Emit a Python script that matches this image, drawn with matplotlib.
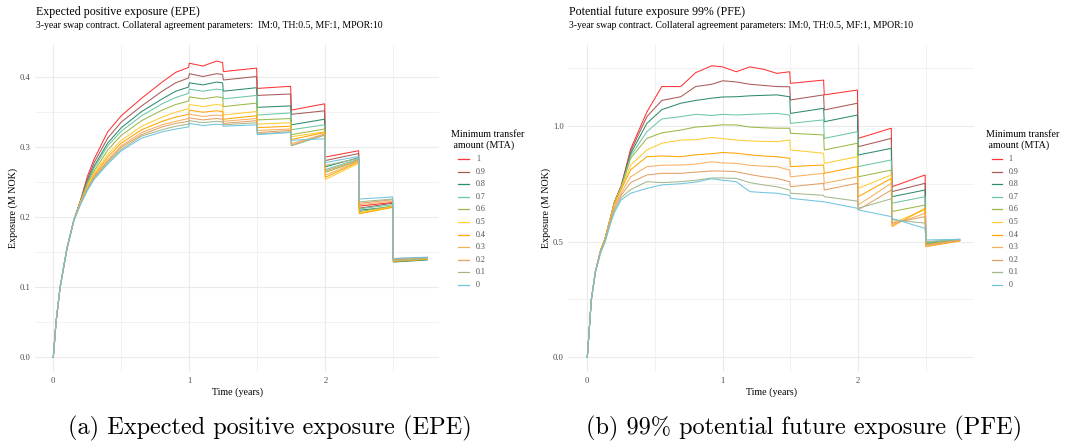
import matplotlib
matplotlib.use("Agg")
import matplotlib.pyplot as plt
from matplotlib.lines import Line2D
from matplotlib.ticker import MultipleLocator

# ---------------- data ----------------
mta_labels = ["1", "0.9", "0.8", "0.7", "0.6", "0.5", "0.4", "0.3", "0.2", "0.1", "0"]
mta_colors = ["#FF3333", "#A85A57", "#2E8B6E", "#6CC8A2", "#9BB84A", "#FFCC33",
              "#FFA500", "#F8B060", "#E3A066", "#A3B88C", "#70C4DE"]

epe_time = [0, 0.02, 0.05, 0.1, 0.15, 0.2, 0.25, 0.3, 0.4, 0.5, 0.65, 0.8, 0.9, 0.995, 1.0,
            1.1, 1.2, 1.245, 1.25, 1.495, 1.5, 1.745, 1.75, 1.995, 2.0, 2.245, 2.25, 2.495, 2.5, 2.75]

epe_1 = [0, 0.05, 0.10, 0.155, 0.195, 0.224, 0.258, 0.283, 0.322, 0.345, 0.370, 0.393, 0.407, 0.414, 0.420,
         0.416, 0.423, 0.421, 0.408, 0.413, 0.384, 0.387, 0.353, 0.362, 0.286, 0.295, 0.216, 0.221, 0.140, 0.142]
epe_09 = [0, 0.05, 0.10, 0.155, 0.195, 0.224, 0.254, 0.278, 0.313, 0.336, 0.359, 0.380, 0.392, 0.399, 0.405,
          0.401, 0.405, 0.404, 0.396, 0.401, 0.374, 0.376, 0.347, 0.352, 0.281, 0.291, 0.213, 0.220, 0.141, 0.142]
epe_08 = [0, 0.05, 0.10, 0.155, 0.195, 0.223, 0.251, 0.273, 0.306, 0.328, 0.351, 0.369, 0.380, 0.386, 0.392,
          0.389, 0.393, 0.392, 0.380, 0.385, 0.357, 0.359, 0.332, 0.340, 0.272, 0.285, 0.210, 0.215, 0.136, 0.139]
epe_07 = [0, 0.05, 0.10, 0.155, 0.195, 0.223, 0.249, 0.270, 0.302, 0.323, 0.345, 0.362, 0.371, 0.377, 0.383,
          0.380, 0.383, 0.382, 0.369, 0.374, 0.346, 0.349, 0.325, 0.332, 0.268, 0.283, 0.212, 0.218, 0.139, 0.142]
epe_06 = [0, 0.05, 0.10, 0.155, 0.195, 0.222, 0.247, 0.266, 0.296, 0.317, 0.338, 0.353, 0.361, 0.366, 0.372,
          0.369, 0.372, 0.371, 0.358, 0.363, 0.339, 0.341, 0.318, 0.326, 0.264, 0.281, 0.208, 0.216, 0.137, 0.140]
epe_05 = [0, 0.05, 0.10, 0.155, 0.195, 0.222, 0.244, 0.263, 0.290, 0.310, 0.330, 0.343, 0.350, 0.355, 0.361,
          0.358, 0.361, 0.360, 0.346, 0.351, 0.333, 0.335, 0.315, 0.322, 0.254, 0.277, 0.206, 0.215, 0.140, 0.142]
epe_04 = [0, 0.05, 0.10, 0.155, 0.195, 0.222, 0.242, 0.260, 0.286, 0.306, 0.325, 0.337, 0.343, 0.347, 0.353,
          0.350, 0.352, 0.351, 0.340, 0.345, 0.328, 0.330, 0.311, 0.321, 0.257, 0.279, 0.205, 0.214, 0.137, 0.140]
epe_03 = [0, 0.05, 0.10, 0.155, 0.195, 0.221, 0.241, 0.258, 0.282, 0.302, 0.321, 0.332, 0.337, 0.341, 0.347,
          0.344, 0.346, 0.345, 0.337, 0.341, 0.324, 0.326, 0.305, 0.319, 0.260, 0.280, 0.218, 0.223, 0.138, 0.141]
epe_02 = [0, 0.05, 0.10, 0.155, 0.195, 0.220, 0.240, 0.257, 0.280, 0.300, 0.318, 0.329, 0.334, 0.337, 0.342,
          0.339, 0.341, 0.340, 0.334, 0.338, 0.321, 0.324, 0.303, 0.318, 0.266, 0.282, 0.220, 0.225, 0.139, 0.142]
epe_01 = [0, 0.05, 0.10, 0.155, 0.195, 0.219, 0.239, 0.255, 0.278, 0.297, 0.316, 0.325, 0.330, 0.333, 0.338,
          0.335, 0.337, 0.336, 0.332, 0.335, 0.319, 0.322, 0.302, 0.317, 0.274, 0.284, 0.222, 0.226, 0.138, 0.141]
epe_00 = [0, 0.05, 0.10, 0.155, 0.195, 0.218, 0.238, 0.254, 0.276, 0.295, 0.313, 0.322, 0.326, 0.329, 0.334,
          0.331, 0.333, 0.332, 0.330, 0.332, 0.318, 0.321, 0.310, 0.312, 0.278, 0.287, 0.226, 0.229, 0.141, 0.143]

pfe_time = [0, 0.03, 0.06, 0.1, 0.13, 0.17, 0.2, 0.25, 0.32, 0.44, 0.55, 0.69, 0.8, 0.92, 1.0,
            1.1, 1.2, 1.3, 1.4, 1.495, 1.5, 1.745, 1.75, 1.995, 2.0, 2.245, 2.25, 2.495, 2.5, 2.75]

pfe_1 = [0, 0.25, 0.37, 0.465, 0.51, 0.60, 0.67, 0.74, 0.90, 1.06, 1.17, 1.17, 1.23, 1.26, 1.255,
         1.234, 1.255, 1.245, 1.227, 1.234, 1.184, 1.198, 1.134, 1.155, 0.946, 0.990, 0.737, 0.788, 0.490, 0.505]
pfe_09 = [0, 0.25, 0.37, 0.465, 0.51, 0.60, 0.67, 0.74, 0.89, 1.04, 1.11, 1.126, 1.17, 1.18, 1.195,
          1.19, 1.18, 1.175, 1.17, 1.169, 1.112, 1.134, 1.069, 1.098, 0.910, 0.946, 0.716, 0.752, 0.495, 0.508]
pfe_08 = [0, 0.25, 0.37, 0.465, 0.51, 0.60, 0.67, 0.735, 0.88, 1.011, 1.07, 1.098, 1.11, 1.12, 1.125,
          1.126, 1.13, 1.132, 1.134, 1.126, 1.054, 1.076, 1.018, 1.047, 0.874, 0.903, 0.694, 0.723, 0.490, 0.505]
pfe_07 = [0, 0.25, 0.37, 0.465, 0.51, 0.60, 0.67, 0.735, 0.87, 0.975, 1.03, 1.04, 1.05, 1.045, 1.05,
          1.047, 1.05, 1.052, 1.054, 1.047, 1.011, 1.026, 0.946, 0.975, 0.824, 0.853, 0.666, 0.694, 0.495, 0.508]
pfe_06 = [0, 0.25, 0.37, 0.465, 0.51, 0.60, 0.665, 0.73, 0.86, 0.946, 0.97, 0.982, 0.995, 1.0, 1.005,
          1.004, 0.995, 0.992, 0.99, 0.99, 0.968, 0.961, 0.896, 0.925, 0.78, 0.809, 0.63, 0.658, 0.49, 0.505]
pfe_05 = [0, 0.25, 0.37, 0.465, 0.51, 0.60, 0.665, 0.73, 0.83, 0.896, 0.925, 0.939, 0.94, 0.95, 0.945,
          0.939, 0.935, 0.933, 0.932, 0.939, 0.896, 0.882, 0.838, 0.867, 0.73, 0.788, 0.58, 0.637, 0.485, 0.505]
pfe_04 = [0, 0.25, 0.37, 0.465, 0.51, 0.60, 0.665, 0.725, 0.81, 0.867, 0.87, 0.867, 0.875, 0.88, 0.885,
          0.882, 0.875, 0.87, 0.867, 0.86, 0.824, 0.831, 0.795, 0.824, 0.694, 0.773, 0.565, 0.644, 0.478, 0.502]
pfe_03 = [0, 0.25, 0.37, 0.46, 0.505, 0.595, 0.655, 0.71, 0.78, 0.824, 0.83, 0.831, 0.835, 0.845, 0.84,
          0.838, 0.83, 0.826, 0.824, 0.809, 0.78, 0.795, 0.752, 0.78, 0.658, 0.752, 0.573, 0.622, 0.48, 0.505]
pfe_02 = [0, 0.25, 0.37, 0.46, 0.50, 0.59, 0.645, 0.70, 0.755, 0.788, 0.795, 0.795, 0.80, 0.805, 0.805,
          0.802, 0.79, 0.78, 0.773, 0.759, 0.737, 0.752, 0.723, 0.752, 0.637, 0.723, 0.58, 0.608, 0.485, 0.505]
pfe_01 = [0, 0.25, 0.37, 0.455, 0.50, 0.58, 0.635, 0.69, 0.725, 0.759, 0.755, 0.759, 0.765, 0.775, 0.775,
          0.773, 0.755, 0.745, 0.737, 0.723, 0.709, 0.70, 0.694, 0.675, 0.644, 0.685, 0.594, 0.58, 0.50, 0.51]
pfe_00 = [0, 0.25, 0.37, 0.455, 0.495, 0.575, 0.625, 0.68, 0.709, 0.73, 0.745, 0.75, 0.757, 0.772, 0.765,
          0.759, 0.716, 0.712, 0.709, 0.70, 0.687, 0.672, 0.672, 0.644, 0.637, 0.608, 0.60, 0.557, 0.507, 0.51]

epe_series = [epe_1, epe_09, epe_08, epe_07, epe_06, epe_05, epe_04, epe_03, epe_02, epe_01, epe_00]
pfe_series = [pfe_1, pfe_09, pfe_08, pfe_07, pfe_06, pfe_05, pfe_04, pfe_03, pfe_02, pfe_01, pfe_00]

epe_yticks = [0.0, 0.1, 0.2, 0.3, 0.4]
pfe_yticks = [0.0, 0.5, 1.0]
x_ticks = [0, 1, 2]

title_epe = "Expected positive exposure (EPE)"
title_pfe = "Potential future exposure 99% (PFE)"
subtitle_epe = "3-year swap contract. Collateral agreement parameters:  IM:0, TH:0.5, MF:1, MPOR:10"
subtitle_pfe = "3-year swap contract. Collateral agreement parameters: IM:0, TH:0.5, MF:1, MPOR:10"
caption_a = "(a) Expected positive exposure (EPE)"
caption_b = "(b) 99% potential future exposure (PFE)"

# ---------------- figure ----------------
W, H = 1068, 442
fig = plt.figure(figsize=(W / 100, H / 100), dpi=100)
fig.patch.set_facecolor("white")

SERIF = ["Liberation Serif", "DejaVu Serif"]
CM = ["cmr10", "DejaVu Serif"]
GRID = "#EBEBEB"
TXT = "#4D4D4D"


def px_axes(x0, x1, y0, y1):
    return fig.add_axes([x0 / W, 1 - y1 / H, (x1 - x0) / W, (y1 - y0) / H])


def style(ax, xlim, ylim, yticks, ymin_step):
    ax.set_xlim(*xlim)
    ax.set_ylim(*ylim)
    for s in ax.spines.values():
        s.set_visible(False)
    ax.set_xticks(x_ticks)
    ax.set_xticklabels([str(v) for v in x_ticks], family=SERIF, fontsize=6.2, color=TXT)
    ax.set_yticks(yticks)
    ax.set_yticklabels([f"{v:.1f}" for v in yticks], family=SERIF, fontsize=6.2, color=TXT)
    ax.xaxis.set_minor_locator(MultipleLocator(0.5))
    ax.yaxis.set_minor_locator(MultipleLocator(ymin_step))
    ax.tick_params(which="both", length=0)
    ax.tick_params(axis="x", pad=4)
    ax.tick_params(axis="y", pad=3)
    ax.grid(which="major", color=GRID, lw=0.8)
    ax.grid(which="minor", color=GRID, lw=0.45)
    ax.set_axisbelow(True)
    ax.set_xlabel("Time (years)", family=SERIF, fontsize=7.2, labelpad=1.5)
    ax.set_ylabel("Exposure (M NOK)", family=SERIF, fontsize=7.2, labelpad=1.5)


# Left panel (EPE)
axL = px_axes(35, 439.3, 45, 371.7)
for vals, col in zip(epe_series, mta_colors):
    axL.plot(epe_time, vals, color=col, lw=0.75, solid_joinstyle="miter")
style(axL, (-0.1346, 2.838), (-0.0206, 0.446), epe_yticks, 0.05)

# Right panel (PFE)
axR = px_axes(568, 974.3, 45, 371.7)
for vals, col in zip(pfe_series, mta_colors):
    axR.plot(pfe_time, vals, color=col, lw=0.75, solid_joinstyle="miter")
style(axR, (-0.1425, 2.858), (-0.0622, 1.3496), pfe_yticks, 0.25)

# Titles
fig.text(36 / W, 1 - 12 / H, title_epe, family=SERIF, fontsize=8.6, va="center", ha="left")
fig.text(36 / W, 1 - 26 / H, subtitle_epe, family=SERIF, fontsize=7.0, va="center", ha="left")
fig.text(569 / W, 1 - 12 / H, title_pfe, family=SERIF, fontsize=8.6, va="center", ha="left")
fig.text(569 / W, 1 - 26 / H, subtitle_pfe, family=SERIF, fontsize=7.0, va="center", ha="left")


# Legends
def legend(x_title, x_line0, x_line1, x_text):
    fig.text(x_title / W, 1 - 140 / H, "Minimum transfer\n amount (MTA)", family=SERIF,
             fontsize=7.2, va="center", ha="left", linespacing=1.15)
    for i, (lab, col) in enumerate(zip(mta_labels, mta_colors)):
        y = 1 - (159 + i * 12.6) / H
        fig.add_artist(Line2D([x_line0 / W, x_line1 / W], [y, y], color=col, lw=0.9,
                              transform=fig.transFigure))
        fig.text(x_text / W, y, lab, family=SERIF, fontsize=5.8, color=TXT, va="center", ha="left")


legend(451, 458, 469, 476)
legend(986, 991.5, 1002, 1008.5)

# Captions
fig.text(270 / W, 1 - 428 / H, caption_a, family=CM, fontsize=17.5, va="center", ha="center")
fig.text(804 / W, 1 - 428 / H, caption_b, family=CM, fontsize=17.5, va="center", ha="center")

fig.savefig("out.png", dpi=100, facecolor="white")
